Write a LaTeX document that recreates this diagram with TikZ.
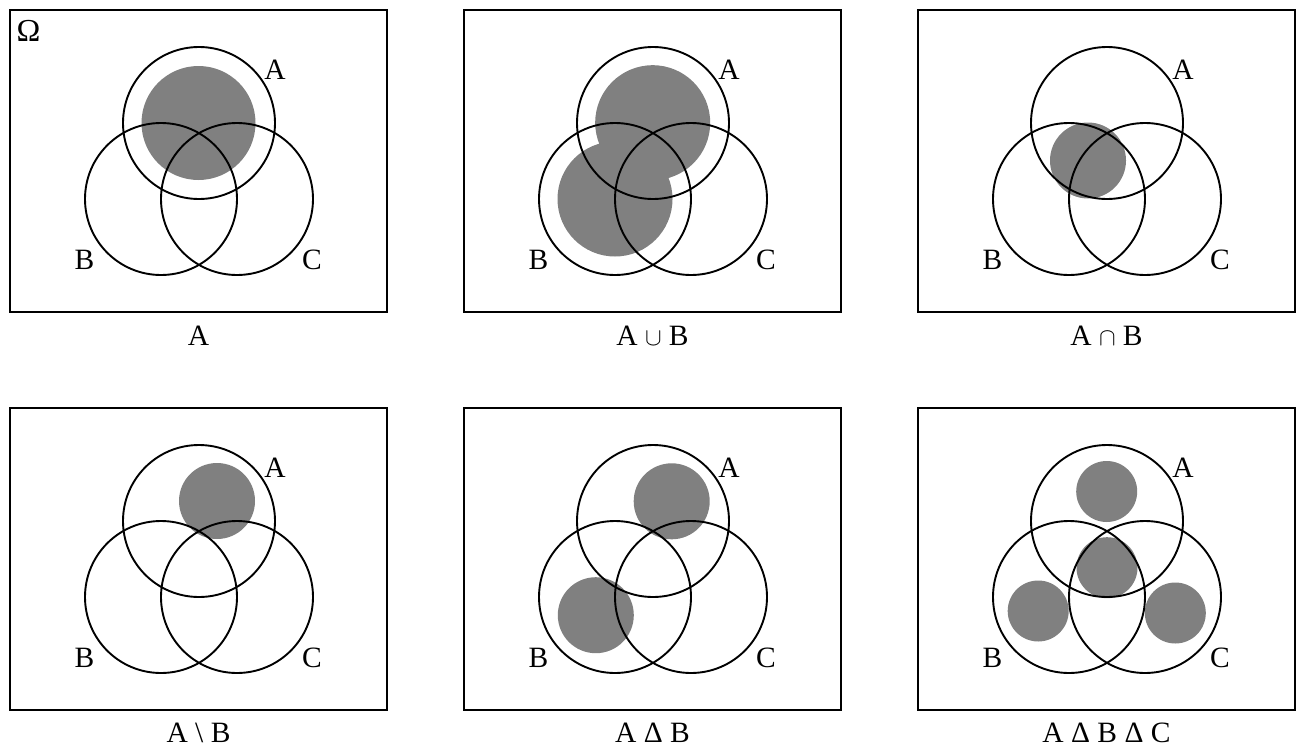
\documentclass[tikz,border=0pt]{standalone}
\usepackage{fontspec}
\setmainfont{Liberation Serif}
\definecolor{shadegray}{HTML}{808080}
\newcommand\vennbase[1]{%
  \draw[frame] (0,0) rectangle (377,302);
  \draw[ring] (189,113) circle[radius=76pt];
  \draw[ring] (151,189) circle[radius=76pt];
  \draw[ring] (227,189) circle[radius=76pt];
  \node[lbl] (#1A) at (265,69.7) {A};
  \node[lbl] (#1B) at (74.5,259) {B};
  \node[lbl] (#1C) at (302,259) {C};
}
\begin{document}
\begin{tikzpicture}[x=1pt,y=-1pt,
  shaded/.style={fill=shadegray, draw=none},
  ring/.style={draw=black, line width=1.9pt, fill=none},
  frame/.style={draw=black, line width=1.9pt},
  lbl/.style={font=\fontsize{29.5}{34}\selectfont, inner sep=0pt, anchor=base}]
\useasboundingbox (0,0) rectangle (1304,747);
% panel 1: A
\begin{scope}[shift={(10,10)}]
  \fill[shaded] (188.5,113) circle[radius=57pt];
  \vennbase{p1}
  \node[lbl, font=\fontsize{32}{36}\selectfont] (omega) at (18.5,31) {Ω};
\end{scope}
\node[lbl] (cap1) at (198.5,345) {A};
% panel 2: A cup B
\begin{scope}[shift={(464,10)}]
  \fill[shaded] (188.7,112.7) circle[radius=57.5pt];
  \fill[shaded] (151,189) circle[radius=57.5pt];
  \vennbase{p2}
\end{scope}
\node[lbl] (cap2) at (652.5,345) {A $\cup$ B};
% panel 3: A cap B
\begin{scope}[shift={(918,10)}]
  \fill[shaded] (170,150.5) circle[radius=38pt];
  \vennbase{p3}
\end{scope}
\node[lbl] (cap3) at (1106.5,345) {A $\cap$ B};
% panel 4: A \ B
\begin{scope}[shift={(10,408)}]
  \fill[shaded] (207,93) circle[radius=38pt];
  \vennbase{p4}
\end{scope}
\node[lbl] (cap4) at (198.5,742) {A \textbackslash\ B};
% panel 5: A Delta B
\begin{scope}[shift={(464,408)}]
  \fill[shaded] (207.7,93.3) circle[radius=38pt];
  \fill[shaded] (131.8,207.2) circle[radius=38pt];
  \vennbase{p5}
\end{scope}
\node[lbl] (cap5) at (652.5,742) {A Δ B};
% panel 6: A Delta B Delta C
\begin{scope}[shift={(918,408)}]
  \fill[shaded] (188.7,83.5) circle[radius=30.5pt];
  \fill[shaded] (189,159.7) circle[radius=30.5pt];
  \fill[shaded] (120.2,203) circle[radius=30.5pt];
  \fill[shaded] (257.3,205) circle[radius=30.5pt];
  \vennbase{p6}
\end{scope}
\node[lbl] (cap6) at (1106.5,742) {A Δ B Δ C};
\end{tikzpicture}
\end{document}
